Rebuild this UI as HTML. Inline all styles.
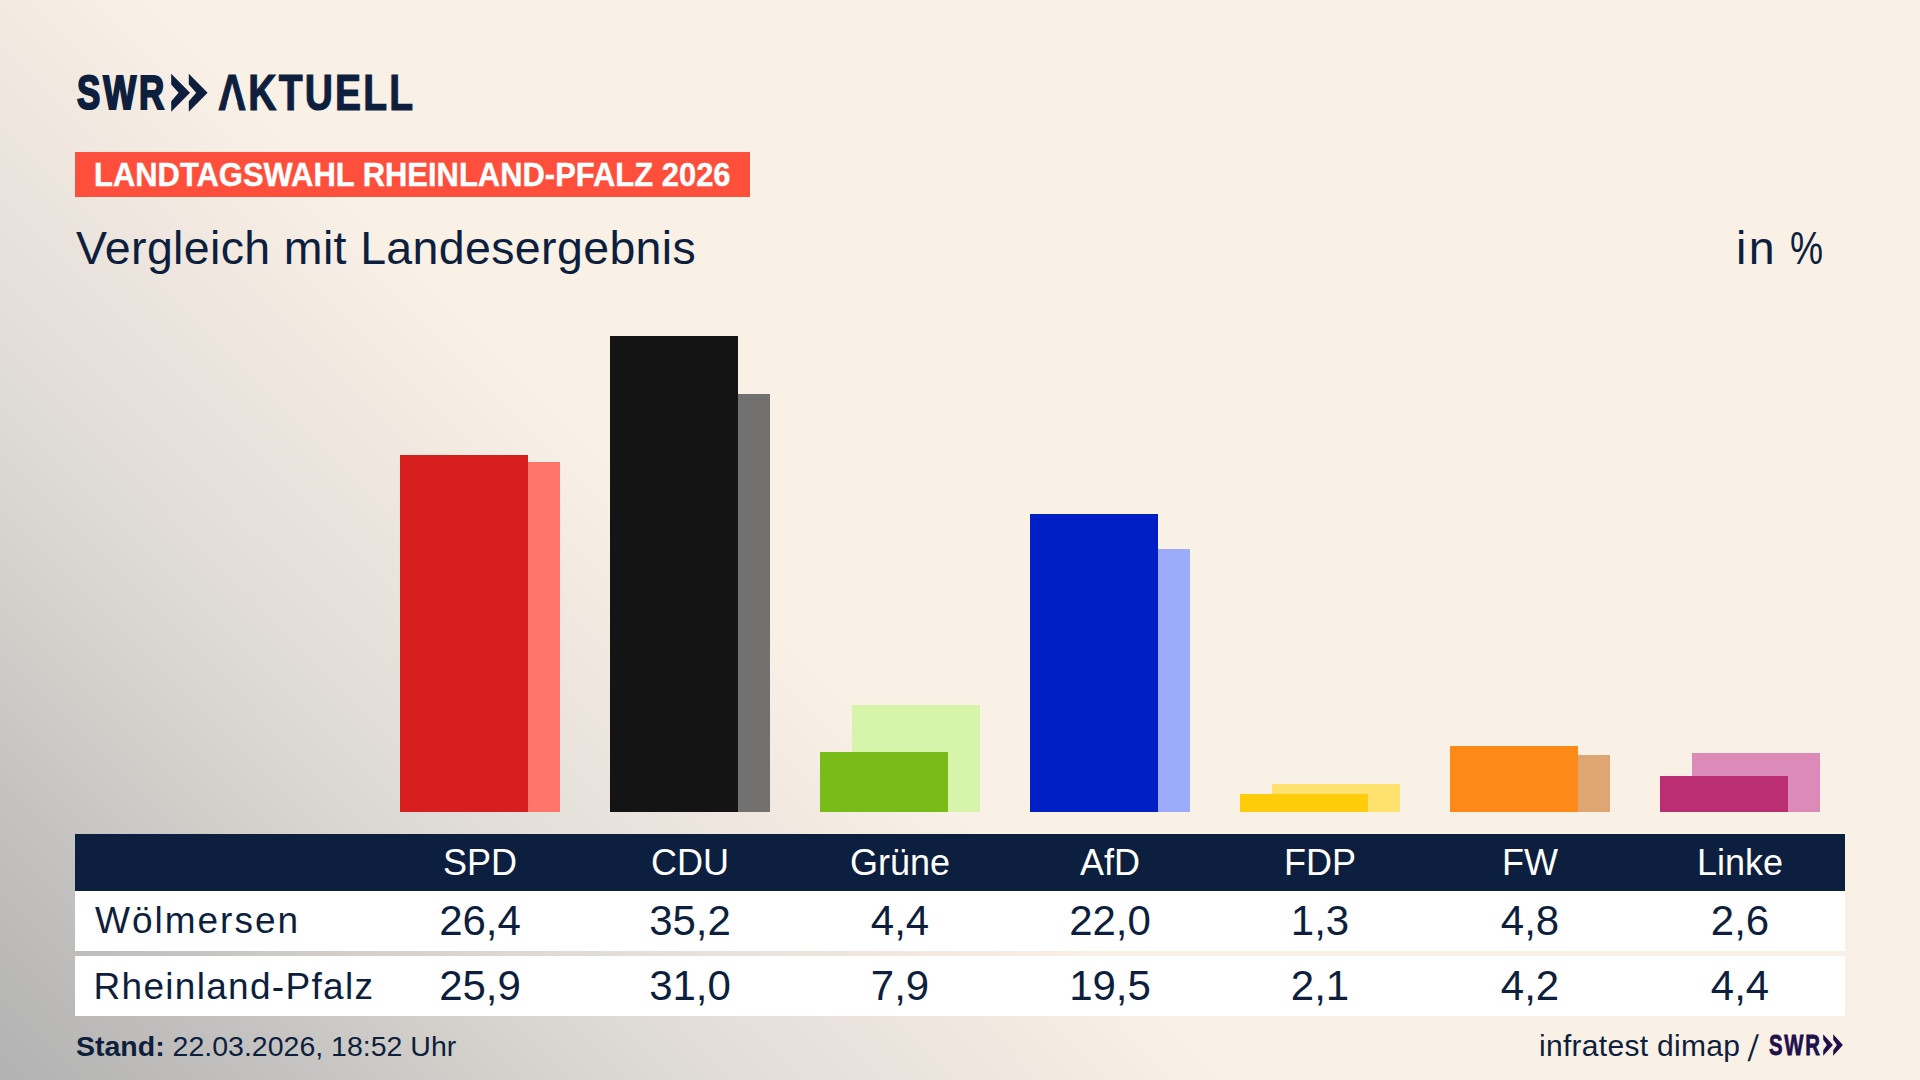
<!DOCTYPE html>
<html lang="de">
<head>
<meta charset="utf-8">
<title>Landtagswahl Rheinland-Pfalz 2026 – Vergleich mit Landesergebnis</title>
<style>
html,body{margin:0;padding:0;}
body{width:1920px;height:1080px;overflow:hidden;position:relative;
  font-family:"Liberation Sans",Arial,sans-serif;color:#0e1f3e;
  background:#f9f0e6;}
#bg{position:absolute;left:0;top:0;width:1920px;height:1080px;
  background:linear-gradient(225deg,#f9f0e6 0%,#f9f0e6 59%,#f2e9e1 64.5%,#e4dfda 74%,#d6d3ce 82%,#c5c3c1 90%,#b2b2b2 100%);}
.abs{position:absolute;}
/* logo */
#logo{left:0;top:0;}
#swr{position:absolute;left:76.5px;top:61.5px;font-weight:700;font-size:48.5px;line-height:60px;letter-spacing:4px;
  transform-origin:0 0;transform:scaleX(0.72);color:#0e1f3e;-webkit-text-stroke:2.2px #0e1f3e;}
#akt{position:absolute;left:218px;top:63px;font-weight:700;font-size:50px;line-height:60px;
  transform-origin:0 0;transform:scaleX(0.78);letter-spacing:2.8px;color:#0e1f3e;-webkit-text-stroke:1.2px #0e1f3e;}
#banner{left:75px;top:152px;width:675px;height:45px;background:#fe4f3c;}
#banner span{position:absolute;left:18.5px;top:4px;font-weight:700;font-size:33px;line-height:38px;color:#fff;
  letter-spacing:0px;white-space:nowrap;transform-origin:0 0;transform:scaleX(0.9375);-webkit-text-stroke:0.4px #fff;}
#sub{left:76px;top:220px;font-size:46.5px;line-height:56px;letter-spacing:0.36px;white-space:nowrap;}
#unit{left:1736px;top:220px;font-size:46.5px;line-height:56px;white-space:nowrap;}
.bar{position:absolute;width:128px;}
/* table */
#thead{left:75px;top:834px;width:1770px;height:57px;background:#0d1f3e;}
.row{position:absolute;left:75px;width:1770px;height:60px;background:#fff;}
#r1{top:891px;}
#r2{top:956px;height:60px;}
.ph{position:absolute;top:0;width:210px;text-align:center;color:#fff;font-size:36px;line-height:57px;}
.lab{position:absolute;left:20px;font-size:37px;line-height:60px;white-space:nowrap;}
#r1 .lab{letter-spacing:2px;}
#r2 .lab{letter-spacing:1.3px;top:0.5px;left:18.5px;}
#fswr{position:absolute;left:1769px;top:1025px;font-weight:700;font-size:29px;-webkit-text-stroke:0.8px #200f4b;line-height:40px;color:#200f4b;
  transform-origin:0 0;transform:scaleX(0.70);letter-spacing:2.5px;}
.num{position:absolute;top:0;width:210px;text-align:center;font-size:42px;line-height:60px;}
#foot1{left:76px;top:1028px;font-size:28.5px;line-height:36px;letter-spacing:0px;white-space:nowrap;}
#foot2{left:1539px;top:1027.5px;font-size:30px;line-height:36px;letter-spacing:0.3px;white-space:nowrap;}
</style>
</head>
<body>
<div id="bg"></div>

<div id="swr">SWR</div>
<svg class="abs" style="left:0;top:0" width="220" height="130" viewBox="0 0 220 130">
  <polygon fill="#0e1f3e" points="171.2,73.8 190,92.7 171.2,111.7 171.2,101.2 178.6,92.7 171.2,84.4"/>
  <polygon fill="#0e1f3e" points="188.8,73.8 207.6,92.7 188.8,111.7 188.8,101.2 196.2,92.7 188.8,84.4"/>
</svg>
<div id="akt">AKTUELL</div>
<svg class="abs" style="left:0;top:0" width="300" height="130" viewBox="0 0 300 130"><polygon fill="#f8efe5" points="229.3,94.3 235.1,94.3 237.5,102.4 227.0,102.4"/></svg>

<div id="banner" class="abs"><span>LANDTAGSWAHL RHEINLAND-PFALZ 2026</span></div>
<div id="sub" class="abs">Vergleich mit Landesergebnis</div>
<div id="unit" class="abs"><span style="letter-spacing:2.5px">in</span> <span style="display:inline-block;transform:scaleX(0.8);transform-origin:0 0">%</span></div>

<!-- bars: back (Landesergebnis) first, then front (Wahlkreis) -->
<div class="bar" style="left:432px;top:462px;height:350px;background:#ff756b"></div>
<div class="bar" style="left:400px;top:455px;height:357px;background:#d71f1f"></div>

<div class="bar" style="left:642px;top:394px;height:418px;background:#72716f"></div>
<div class="bar" style="left:610px;top:336px;height:476px;background:#141414"></div>

<div class="bar" style="left:852px;top:705px;height:107px;background:#d7f5aa"></div>
<div class="bar" style="left:820px;top:752px;height:60px;background:#79bc1a"></div>

<div class="bar" style="left:1062px;top:549px;height:263px;background:#9dabfc"></div>
<div class="bar" style="left:1030px;top:514px;height:298px;background:#0020c6"></div>

<div class="bar" style="left:1272px;top:784px;height:28px;background:#ffe16e"></div>
<div class="bar" style="left:1240px;top:794px;height:18px;background:#ffcc0b"></div>

<div class="bar" style="left:1482px;top:755px;height:57px;background:#dfa673"></div>
<div class="bar" style="left:1450px;top:746px;height:66px;background:#fd8a18"></div>

<div class="bar" style="left:1692px;top:753px;height:59px;background:#dc8ab8"></div>
<div class="bar" style="left:1660px;top:776px;height:36px;background:#bb2e74"></div>

<div id="thead" class="abs">
  <div class="ph" style="left:300px">SPD</div>
  <div class="ph" style="left:510px">CDU</div>
  <div class="ph" style="left:720px">Grüne</div>
  <div class="ph" style="left:930px">AfD</div>
  <div class="ph" style="left:1140px">FDP</div>
  <div class="ph" style="left:1350px">FW</div>
  <div class="ph" style="left:1560px">Linke</div>
</div>
<div id="r1" class="row">
  <div class="lab">Wölmersen</div>
  <div class="num" style="left:300px">26,4</div>
  <div class="num" style="left:510px">35,2</div>
  <div class="num" style="left:720px">4,4</div>
  <div class="num" style="left:930px">22,0</div>
  <div class="num" style="left:1140px">1,3</div>
  <div class="num" style="left:1350px">4,8</div>
  <div class="num" style="left:1560px">2,6</div>
</div>
<div id="r2" class="row">
  <div class="lab">Rheinland-Pfalz</div>
  <div class="num" style="left:300px">25,9</div>
  <div class="num" style="left:510px">31,0</div>
  <div class="num" style="left:720px">7,9</div>
  <div class="num" style="left:930px">19,5</div>
  <div class="num" style="left:1140px">2,1</div>
  <div class="num" style="left:1350px">4,2</div>
  <div class="num" style="left:1560px">4,4</div>
</div>

<div id="foot1" class="abs"><b>Stand:</b> 22.03.2026, 18:52 Uhr</div>
<div id="foot2" class="abs">infratest dimap <span style="display:inline-block;transform:translateY(2.2px) scaleY(1.23) skewX(-8deg);transform-origin:50% 50%">/</span></div>
<div id="fswr">SWR</div>
<svg class="abs" style="left:0;top:0" width="1920" height="1080" viewBox="0 0 1920 1080" pointer-events="none">
  <polygon fill="#200f4b" points="1823.2,1034.2 1832.9,1045.0 1823.2,1055.7 1823.2,1050.2 1826.9,1045.0 1823.2,1039.7"/>
  <polygon fill="#200f4b" points="1833.2,1034.2 1842.9,1045.0 1833.2,1055.7 1833.2,1050.2 1836.9,1045.0 1833.2,1039.7"/>
</svg>

</body>
</html>
